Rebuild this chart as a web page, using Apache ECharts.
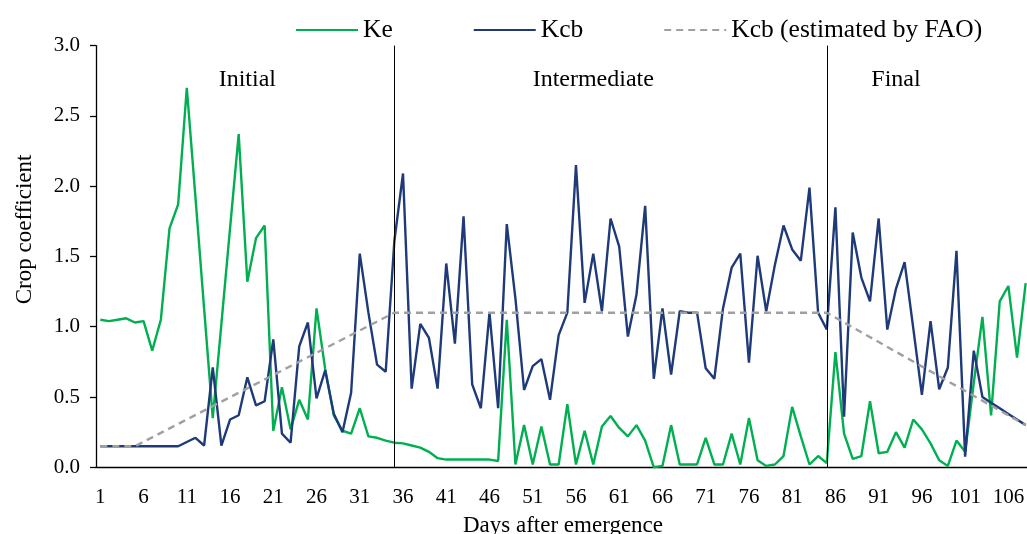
<!DOCTYPE html>
<html>
<head>
<meta charset="utf-8">
<script src="https://cdn.jsdelivr.net/npm/echarts@6/dist/echarts.min.js"></script>
<style>
  html, body { margin: 0; padding: 0; background: #fff; }
  #chart { width: 1027px; height: 534px; }
</style>
</head>
<body>
<div id="chart"></div>
<script>
// Days after emergence (categories 1..108)
const days = [];
for (let i = 1; i <= 108; i++) days.push(String(i));

// Ke (green)
const keValues = [
  1.05, 1.04, 1.05, 1.06, 1.03, 1.04, 0.83, 1.05, 1.70, 1.87,
  2.70, 1.92, 1.13, 0.35, 1.02, 1.70, 2.37, 1.32, 1.63, 1.72,
  0.26, 0.57, 0.27, 0.48, 0.34, 1.13, 0.70, 0.37, 0.26, 0.24,
  0.42, 0.22, 0.21, 0.19, 0.175, 0.17, 0.155, 0.14, 0.11, 0.065,
  0.055, 0.055, 0.055, 0.055, 0.055, 0.055, 0.045, 1.05, 0.02, 0.30,
  0.02, 0.29, 0.02, 0.02, 0.45, 0.02, 0.26, 0.02, 0.29, 0.365,
  0.28, 0.22, 0.30, 0.19, 0.00, 0.01, 0.30, 0.02, 0.02, 0.02,
  0.21, 0.02, 0.02, 0.24, 0.02, 0.35, 0.05, 0.01, 0.02, 0.08,
  0.43, 0.22, 0.02, 0.08, 0.03, 0.82, 0.24, 0.06, 0.08, 0.47,
  0.10, 0.11, 0.25, 0.14, 0.34, 0.27, 0.17, 0.05, 0.01, 0.19,
  0.11, 0.60, 1.07, 0.37, 1.18, 1.29, 0.78, 1.31
];

// Kcb (dark blue)
const kcbValues = [
  0.15, 0.15, 0.15, 0.15, 0.15, 0.15, 0.15, 0.15, 0.15, 0.15,
  0.18, 0.21, 0.155, 0.71, 0.155, 0.34, 0.37, 0.64, 0.44, 0.47,
  0.91, 0.24, 0.175, 0.86, 1.03, 0.49, 0.69, 0.38, 0.25, 0.53,
  1.52, 1.10, 0.73, 0.68, 1.61, 2.09, 0.56, 1.02, 0.92, 0.56,
  1.45, 0.88, 1.785, 0.59, 0.42, 1.10, 0.42, 1.73, 1.20, 0.55,
  0.72, 0.77, 0.48, 0.94, 1.10, 2.15, 1.17, 1.52, 1.11, 1.77,
  1.57, 0.93, 1.23, 1.86, 0.63, 1.13, 0.66, 1.11, 1.10, 1.10,
  0.705, 0.63, 1.13, 1.42, 1.52, 0.745, 1.505, 1.11, 1.44, 1.72,
  1.55, 1.47, 1.99, 1.10, 0.98, 1.85, 0.36, 1.67, 1.35, 1.18,
  1.77, 0.98, 1.27, 1.46, 0.99, 0.515, 1.04, 0.555, 0.71, 1.54,
  0.075, 0.83, 0.50, 0.46, 0.42, 0.38, 0.34, 0.30
];

// Kcb estimated by FAO: breakpoints [day, value]
const faoDays = ['1', '5', '35', '85', '108'];
const faoValues = [0.15, 0.15, 1.10, 1.10, 0.30];

// Growth stage boundaries (days) and labels
const stageBoundaryDays = ['35', '85'];
const stageNames = ['Initial', 'Intermediate', 'Final'];
const stageLabelDays = ['18', '58', '93'];
const stageLabelValue = 2.76;

// Y axis ticks
const yMin = 0, yMax = 3, yInterval = 0.5;

const serif = 'Liberation Serif';

const chart = echarts.init(document.getElementById('chart'), null, { renderer: 'canvas' });

const option = {
  animation: false,
  backgroundColor: '#ffffff',
  textStyle: { fontFamily: serif, color: '#000' },
  legend: {
    top: 12,
    left: 290,
    itemWidth: 62,
    itemHeight: 14,
    itemGap: 80,
    itemStyle: { opacity: 0 },
    textStyle: { fontFamily: serif, fontSize: 25.5, color: '#000' },
    data: ['Ke', 'Kcb', 'Kcb (estimated by FAO)']
  },
  grid: {
    left: 96, top: 45.6, width: 934, height: 421.7,
    containLabel: false, outerBoundsMode: 'none'
  },
  xAxis: {
    type: 'category',
    data: days,
    boundaryGap: true,
    axisLine: { lineStyle: { color: '#000', width: 1.3 } },
    axisTick: { interval: 4, length: 6, lineStyle: { color: '#000', width: 1.3 } },
    axisLabel: { interval: 4, fontFamily: serif, fontSize: 21, color: '#000', margin: 20 },
    splitLine: { show: false },
    name: 'Days after emergence',
    nameLocation: 'middle',
    nameGap: 47,
    nameTextStyle: { fontFamily: serif, fontSize: 23, color: '#000' }
  },
  yAxis: {
    type: 'value',
    min: yMin,
    max: yMax,
    interval: yInterval,
    axisLine: { show: true, lineStyle: { color: '#000', width: 1.3 } },
    axisTick: { show: true, length: 6, lineStyle: { color: '#000', width: 1.3 } },
    axisLabel: {
      fontFamily: serif, fontSize: 21, color: '#000', margin: 16,
      formatter: v => v.toFixed(1)
    },
    splitLine: { show: false },
    name: 'Crop coefficient',
    nameLocation: 'middle',
    nameGap: 60,
    nameTextStyle: { fontFamily: serif, fontSize: 23, color: '#000', padding: [0, 0, 0, 54] }
  },
  series: [
    {
      name: 'Ke',
      type: 'line',
      data: keValues,
      symbol: 'none',
      lineStyle: { color: '#00B050', width: 2.4 },
      itemStyle: { color: '#00B050' },
      z: 3
    },
    {
      name: 'Kcb',
      type: 'line',
      data: kcbValues,
      symbol: 'none',
      lineStyle: { color: '#1F3A78', width: 2.4 },
      itemStyle: { color: '#1F3A78' },
      z: 4
    },
    {
      name: 'Kcb (estimated by FAO)',
      type: 'line',
      data: faoDays.map((d, i) => [d, faoValues[i]]),
      symbol: 'none',
      lineStyle: { color: '#A0A0A0', width: 2.4, type: [7, 5] },
      itemStyle: { color: '#A0A0A0' },
      z: 5,
      markLine: {
        silent: true,
        symbol: ['none', 'none'],
        label: { show: false },
        lineStyle: { color: '#000', width: 1, type: 'solid' },
        data: stageBoundaryDays.map(d => ({ xAxis: d }))
      },
      markPoint: {
        silent: true,
        symbol: 'rect',
        symbolSize: 1,
        itemStyle: { color: 'rgba(0,0,0,0)' },
        label: {
          show: true, position: 'inside',
          fontFamily: serif, fontSize: 24, color: '#000',
          formatter: p => p.name
        },
        data: stageNames.map((n, i) => ({ name: n, coord: [stageLabelDays[i], stageLabelValue] }))
      }
    }
  ]
};

chart.setOption(option);
</script>
</body>
</html>
